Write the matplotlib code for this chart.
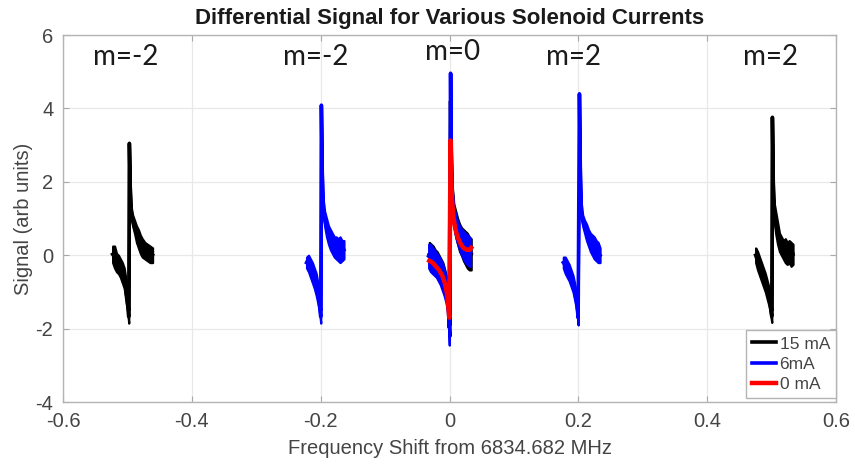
import numpy as np
import matplotlib
matplotlib.use("Agg")
import matplotlib.pyplot as plt

plt.rcParams["font.family"] = ["Liberation Sans", "DejaVu Sans"]

# ---- data: resonance centres (MHz offset) and per-trace envelopes ----
xticks = [-0.6, -0.4, -0.2, 0.0, 0.2, 0.4, 0.6]
xtick_labels = ["-0.6", "-0.4", "-0.2", "0", "0.2", "0.4", "0.6"]
yticks = [-4, -2, 0, 2, 4, 6]
ytick_labels = ["-4", "-2", "0", "2", "4", "6"]

# 15 mA (black): m=-2, m=0, m=2
black_left_center = -0.497
black_left_off = [-0.026, -0.023, -0.020, -0.017, -0.014, -0.011, -0.008, -0.005, -0.003, -0.001,
                  0.0, 0.0015, 0.003, 0.005, 0.008, 0.011, 0.014, 0.017, 0.020, 0.024, 0.028, 0.032, 0.036]
black_left_hi = [0.25, 0.25, 0.05, 0.0, -0.1, -0.2, -0.35, -0.7, -1.0, -1.5,
                 3.05, 1.9, 1.3, 1.1, 0.95, 0.8, 0.7, 0.55, 0.45, 0.35, 0.3, 0.25, 0.2]
black_left_lo = [-0.2, -0.35, -0.45, -0.5, -0.6, -0.75, -0.9, -1.3, -1.5, -1.85,
                 3.05, 1.5, 1.0, 0.8, 0.6, 0.35, 0.2, 0.05, -0.05, -0.1, -0.15, -0.2, -0.2]

black_mid_center = 0.0015
black_mid_off = [-0.033, -0.030, -0.027, -0.024, -0.021, -0.018, -0.015, -0.012, -0.009, -0.006, -0.003, -0.001,
                 0.0, 0.0015, 0.003, 0.005, 0.008, 0.011, 0.014, 0.017, 0.020, 0.023, 0.026, 0.029, 0.032]
black_mid_hi = [0.35, 0.3, 0.25, 0.15, 0.1, 0.0, -0.1, -0.2, -0.4, -0.6, -1.0, -1.6,
                4.2, 2.4, 1.8, 1.4, 1.2, 1.0, 0.85, 0.75, 0.7, 0.65, 0.6, 0.5, 0.45]
black_mid_lo = [-0.3, -0.4, -0.5, -0.55, -0.6, -0.7, -0.8, -0.9, -1.05, -1.25, -1.5, -2.2,
                4.2, 1.9, 1.2, 0.8, 0.5, 0.3, 0.1, 0.0, -0.15, -0.25, -0.35, -0.4, -0.4]

black_right_center = 0.501
black_right_off = [-0.026, -0.023, -0.020, -0.017, -0.014, -0.011, -0.008, -0.005, -0.003, -0.001,
                   0.0, 0.0015, 0.003, 0.005, 0.008, 0.011, 0.014, 0.017, 0.020, 0.023, 0.026, 0.029, 0.032]
black_right_hi = [0.2, 0.1, -0.05, -0.2, -0.35, -0.5, -0.7, -0.9, -1.2, -1.5,
                  3.76, 2.0, 1.4, 1.2, 0.9, 0.6, 0.5, 0.4, 0.45, 0.35, 0.4, 0.35, 0.3]
black_right_lo = [-0.2, -0.4, -0.55, -0.7, -0.85, -1.0, -1.2, -1.4, -1.6, -1.83,
                  3.76, 1.6, 0.9, 0.6, 0.3, 0.1, 0.0, -0.1, -0.2, -0.25, -0.2, -0.3, -0.25]

# 6 mA (blue): m=-2, m=0, m=2
blue_left_center = -0.199
blue_left_off = [-0.023, -0.020, -0.017, -0.014, -0.011, -0.008, -0.005, -0.003, -0.001,
                 0.0, 0.0015, 0.003, 0.005, 0.008, 0.011, 0.014, 0.017, 0.020, 0.023, 0.026, 0.029, 0.032, 0.035]
blue_left_hi = [-0.05, 0.0, -0.1, -0.2, -0.35, -0.5, -0.8, -1.1, -1.5,
                4.09, 2.3, 1.5, 1.2, 1.0, 0.8, 0.7, 0.6, 0.5, 0.5, 0.45, 0.5, 0.4, 0.4]
blue_left_lo = [-0.35, -0.45, -0.6, -0.75, -0.9, -1.1, -1.35, -1.55, -1.85,
                4.09, 1.8, 1.1, 0.8, 0.5, 0.3, 0.15, 0.05, -0.05, -0.1, -0.15, -0.2, -0.15, -0.1]

blue_mid_center = 0.0015
blue_mid_off = [-0.034, -0.031, -0.028, -0.025, -0.022, -0.019, -0.016, -0.013, -0.010, -0.007, -0.004, -0.002,
                0.0, 0.0015, 0.003, 0.005, 0.008, 0.011, 0.014, 0.017, 0.020, 0.023, 0.026, 0.029, 0.031]
blue_mid_hi = [0.3, 0.3, 0.2, 0.15, 0.05, 0.0, -0.1, -0.2, -0.35, -0.6, -0.9, -1.5,
               4.96, 2.6, 1.7, 1.3, 1.1, 0.9, 0.8, 0.7, 0.65, 0.6, 0.55, 0.5, 0.45]
blue_mid_lo = [-0.35, -0.45, -0.5, -0.55, -0.6, -0.7, -0.8, -0.95, -1.1, -1.3, -1.6, -2.45,
               4.96, 2.0, 1.2, 0.8, 0.5, 0.3, 0.15, 0.0, -0.1, -0.2, -0.25, -0.3, -0.3]

blue_right_center = 0.2015
blue_right_off = [-0.025, -0.022, -0.019, -0.016, -0.013, -0.010, -0.007, -0.004, -0.002,
                  0.0, 0.0015, 0.003, 0.005, 0.008, 0.011, 0.014, 0.017, 0.020, 0.023, 0.026, 0.029, 0.032]
blue_right_hi = [-0.05, -0.05, -0.15, -0.25, -0.4, -0.55, -0.8, -1.1, -1.5,
                 4.4, 2.4, 1.4, 1.1, 0.95, 0.85, 0.7, 0.6, 0.55, 0.5, 0.4, 0.35, 0.2]
blue_right_lo = [-0.35, -0.5, -0.6, -0.7, -0.85, -1.0, -1.25, -1.55, -1.9,
                 4.4, 1.9, 1.0, 0.8, 0.6, 0.4, 0.25, 0.1, 0.0, -0.1, -0.15, -0.2, -0.2]

# 0 mA (red): m=0 only
red_center = 0.0015
red_off = [-0.033, -0.028, -0.023, -0.018, -0.013, -0.009, -0.006, -0.004, -0.002,
           0.0, 0.001, 0.002, 0.004, 0.006, 0.009, 0.012, 0.016, 0.020, 0.025, 0.030, 0.032]
red_sig = [-0.15, -0.2, -0.3, -0.4, -0.55, -0.75, -1.0, -1.3, -1.7,
           3.13, 2.2, 1.6, 1.1, 0.85, 0.6, 0.45, 0.3, 0.2, 0.15, 0.15, 0.2]

peak_labels = ["m=-2", "m=-2", "m=0", "m=2", "m=2"]
peak_label_x = [-0.502, -0.208, 0.005, 0.192, 0.498]
peak_label_y = [5.4, 5.4, 5.53, 5.4, 5.4]


def draw_noisy(ax, center, off, hi, lo, color, label=None):
    x = center + np.asarray(off)
    hi = np.asarray(hi)
    lo = np.asarray(lo)
    ax.fill_between(x, lo, hi, facecolor=color, edgecolor=color, lw=1.6, zorder=2)
    line, = ax.plot(x, (hi + lo) / 2, color=color, lw=2.6, label=label, zorder=2)
    return line


fig = plt.figure(figsize=(8.55, 4.68), dpi=100)
ax = fig.add_axes([0.0737, 0.141, 0.9043, 0.784])

h_black = draw_noisy(ax, black_left_center, black_left_off, black_left_hi, black_left_lo, "black", "15 mA")
draw_noisy(ax, black_mid_center, black_mid_off, black_mid_hi, black_mid_lo, "black")
draw_noisy(ax, black_right_center, black_right_off, black_right_hi, black_right_lo, "black")

h_blue = draw_noisy(ax, blue_left_center, blue_left_off, blue_left_hi, blue_left_lo, "#0000ff", "6mA")
draw_noisy(ax, blue_mid_center, blue_mid_off, blue_mid_hi, blue_mid_lo, "#0000ff")
draw_noisy(ax, blue_right_center, blue_right_off, blue_right_hi, blue_right_lo, "#0000ff")

h_red, = ax.plot(red_center + np.asarray(red_off), red_sig, color="#ff0000", lw=3.2,
                 label="0 mA", zorder=3)

for txt, tx, ty in zip(peak_labels, peak_label_x, peak_label_y):
    ax.text(tx, ty, txt, ha="center", va="center", fontsize=20,
            family=["Lato", "DejaVu Sans"], color="#1a1a1a")

ax.set_xlim(-0.6, 0.6)
ax.set_ylim(-4, 6)
ax.set_xticks(xticks)
ax.set_xticklabels(xtick_labels)
ax.set_yticks(yticks)
ax.set_yticklabels(ytick_labels)
ax.grid(True, color="#e8e8e8", lw=0.9, zorder=0)
ax.set_axisbelow(True)
ax.tick_params(direction="in", top=True, right=True, length=4, width=0.8,
               color="#a8a8a8", labelcolor="#444444", labelsize=14.5, pad=7)
for sp in ax.spines.values():
    sp.set_color("#b4b4b4")
    sp.set_linewidth(1.0)

ax.set_title("Differential Signal for Various Solenoid Currents", fontsize=16,
             fontweight="bold", family=["Liberation Sans Narrow", "Liberation Sans", "DejaVu Sans"],
             color="#1a1a1a", pad=8)
ax.set_xlabel("Frequency Shift from 6834.682 MHz", fontsize=14.5, color="#444444", labelpad=6)
ax.set_ylabel("Signal (arb units)", fontsize=14.5, color="#444444", labelpad=2)

leg = ax.legend(handles=[h_black, h_blue, h_red], loc="lower right", bbox_to_anchor=(1.0, 0.01),
                fontsize=12.5, handlelength=1.4, handletextpad=0.2, labelspacing=0.3,
                borderpad=0.35, borderaxespad=0.0, fancybox=False, framealpha=1.0,
                edgecolor="#b4b4b4")
leg.get_frame().set_linewidth(1.0)
for t in leg.get_texts():
    t.set_color("#444444")

fig.savefig("out.png", dpi=100)
